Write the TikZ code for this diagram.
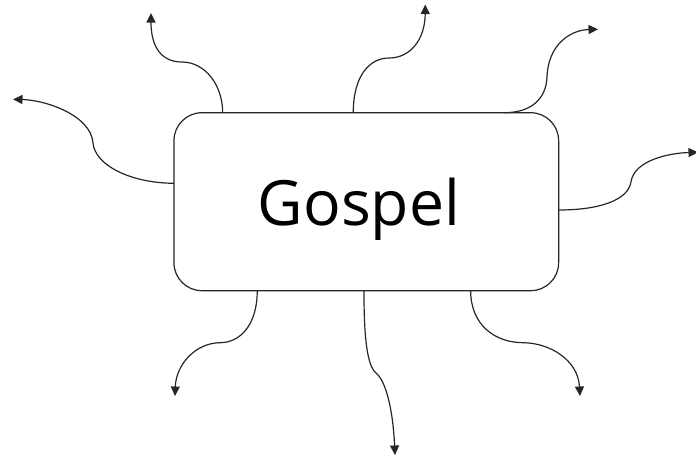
\documentclass[tikz,border=0pt]{standalone}
\usepackage{fontspec}
\setmainfont{Open Sans}
\usetikzlibrary{arrows.meta}
\begin{document}
\begin{tikzpicture}[x=1pt,y=-1pt,
  link/.style={line width=1.2pt,draw=black!85,-{Triangle[length=9.5pt,width=9pt]}},
  frame/.style={draw=black!85,line width=1.2pt,rounded corners=28pt,minimum width=384.7pt,minimum height=178pt,inner sep=0pt,outer sep=0pt}]
\useasboundingbox (0,0) rectangle (696,459);
\node[frame] (box) at (366.3,201.7) {};
\node[anchor=base,inner sep=0pt,font=\fontsize{62.5}{75}\selectfont] (gospel) at (359,225) {Gospel};
% end points
\coordinate (eA) at (151,13);
\coordinate (eB) at (13,99.3);
\coordinate (eC) at (425.3,4.5);
\coordinate (eD) at (598,29.3);
\coordinate (eE) at (698,152.3);
\coordinate (eF) at (175,396);
\coordinate (eG) at (395,455);
\coordinate (eH) at (580,396);
% start points on the box
\coordinate (sA) at ([xshift=48.7pt]box.north west);
\coordinate (sC) at ([xshift=179.3pt]box.north west);
\coordinate (sD) at ([xshift=330.3pt]box.north west);
\coordinate (sB) at ([yshift=-70.6pt]box.north west);
\coordinate (sE) at ([yshift=-97.3pt]box.north east);
\coordinate (sF) at ([xshift=83.3pt]box.south west);
\coordinate (sG) at ([xshift=190pt]box.south west);
\coordinate (sH) at ([xshift=296.7pt]box.south west);
% connectors
\draw[link] (sA) .. controls (222.7,85) and (205,62) .. (182,62)
               .. controls (160,62) and (151,45) .. (eA);
\draw[link] (sB) .. controls (130,183) and (95,165) .. (93,143)
               .. controls (91,115) and (45,100) .. (eB);
\draw[link] (sC) .. controls (353.3,75) and (370,58) .. (389,58)
               .. controls (410,58) and (425,40) .. (eC);
\draw[link] (sD) .. controls (530,112.7) and (546,100) .. (547,77)
               .. controls (548,45) and (570,30) .. (eD);
\draw[link] (sE) .. controls (600,210) and (628,200) .. (631,182)
               .. controls (634,160) and (670,153) .. (eE);
\draw[link] (sF) .. controls (257.3,325) and (240,342.7) .. (220,342.7)
               .. controls (195,343) and (176,365) .. (eF);
\draw[link] (sG) .. controls (364,330) and (366,365) .. (376,373)
               .. controls (386,381) and (393,410) .. (eG);
\draw[link] (sH) .. controls (470.7,325) and (495,342.7) .. (523.3,342.7)
               .. controls (550,343) and (578,360) .. (eH);
\end{tikzpicture}
\end{document}
